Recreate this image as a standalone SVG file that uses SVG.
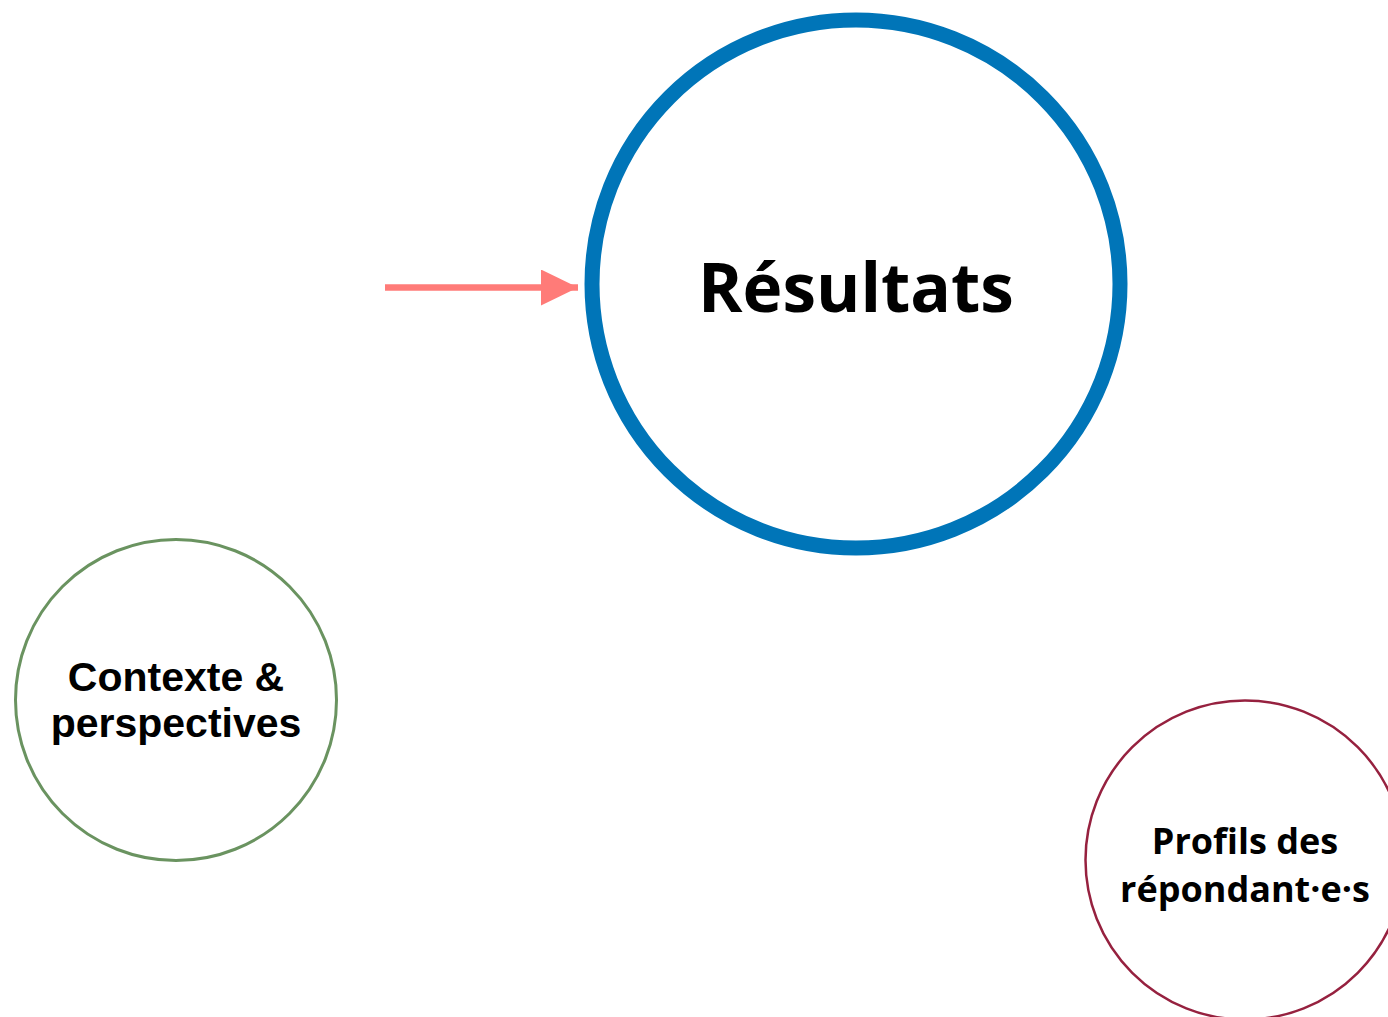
<svg xmlns="http://www.w3.org/2000/svg" width="1388" height="1017" viewBox="0 0 1388 1017">
  <style>
    .os { font-family: "Open Sans", "DejaVu Sans", sans-serif; font-weight: 700; fill: #000; text-anchor: middle; }
    .ls { font-family: "Liberation Sans", Arial, sans-serif; font-weight: 700; fill: #000; text-anchor: middle; }
  </style>
  <defs>
    <marker id="ah" markerUnits="userSpaceOnUse" markerWidth="38" markerHeight="36" refX="37" refY="18" orient="auto">
      <polygon points="0,0 37,18 0,36" fill="#FF7B78"/>
    </marker>
  </defs>
  <rect width="1388" height="1017" fill="#fff"/>
  <g id="connectors">
    <line x1="385" y1="287.5" x2="578" y2="287.5" stroke="#FF7B78" stroke-width="6.5" marker-end="url(#ah)"/>
  </g>
  <g id="resultats">
    <circle cx="856" cy="284" r="264" fill="none" stroke="#0075B8" stroke-width="15"/>
    <text class="os" x="856" y="312" font-size="67.5">Résultats</text>
  </g>
  <g id="contexte">
    <circle cx="176" cy="700" r="160.5" fill="none" stroke="#6A9360" stroke-width="3"/>
    <text class="ls" x="176" y="691" font-size="41">Contexte &amp;</text>
    <text class="ls" x="176" y="737" font-size="41">perspectives</text>
  </g>
  <g id="profils">
    <circle cx="1245" cy="860" r="159.5" fill="none" stroke="#96213F" stroke-width="2.5"/>
    <text class="os" x="1245" y="854" font-size="36">Profils des</text>
    <text class="os" x="1245" y="902" font-size="36">répondant·e·s</text>
  </g>
</svg>
